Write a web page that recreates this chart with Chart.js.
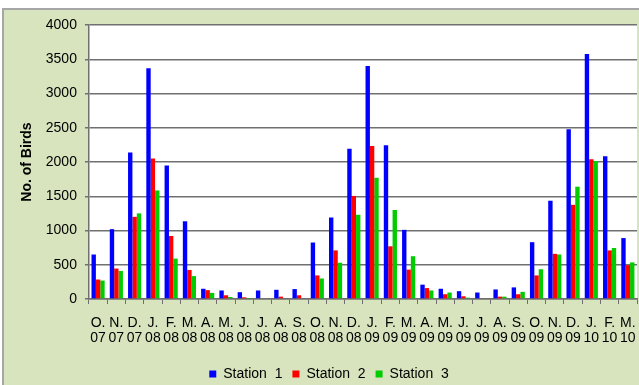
<!DOCTYPE html>
<html lang="en">
<head>
<meta charset="UTF-8">
<title>No. of Birds by month</title>
<script src="https://cdn.jsdelivr.net/npm/chart.js"></script>
<style>
  body { margin: 0; background: #fff; }
  #wrap { position: relative; width: 639px; height: 385px; overflow: hidden; }
  #frame { position: absolute; left: 2px; top: 8px; width: 640px; height: 380px;
           background: #d7e4bd; border-left: 2px solid #a6a6a6; border-top: 2px solid #a6a6a6; }
  canvas { position: absolute; left: 0; top: 0; }
</style>
</head>
<body>
<div id="wrap">
  <div id="frame"></div>
  <canvas id="chart" width="639" height="385"></canvas>
</div>
<script>
const months = [
  ['O.', '07'], ['N.', '07'], ['D.', '07'], ['J.', '08'], ['F.', '08'], ['M.', '08'],
  ['A.', '08'], ['M.', '08'], ['J.', '08'], ['J.', '08'], ['A.', '08'], ['S.', '08'],
  ['O.', '08'], ['N.', '08'], ['D.', '08'], ['J.', '09'], ['F.', '09'], ['M.', '09'],
  ['A.', '09'], ['M.', '09'], ['J.', '09'], ['J.', '09'], ['A.', '09'], ['S.', '09'],
  ['O.', '09'], ['N.', '09'], ['D.', '09'], ['J.', '10'], ['F.', '10'], ['M.', '10']
];
const station1 = [650, 1020, 2140, 3370, 1950, 1135, 150, 125, 100, 125, 135, 145,
                  825, 1190, 2195, 3400, 2245, 1010, 210, 150, 115, 95, 140, 170,
                  830, 1435, 2480, 3575, 2085, 890];
const station2 = [285, 445, 1200, 2050, 920, 425, 130, 55, 25, 0, 35, 55,
                  345, 710, 1505, 2235, 770, 430, 160, 70, 40, 10, 35, 70,
                  345, 660, 1375, 2040, 710, 495];
const station3 = [270, 410, 1250, 1585, 590, 335, 90, 30, 5, 0, 10, 0,
                  300, 530, 1230, 1770, 1300, 625, 125, 95, 20, 0, 35, 105,
                  435, 650, 1640, 2015, 745, 535];
const seriesNames = ['Station  1', 'Station  2', 'Station  3'];
const seriesColors = ['#0000ff', '#ff0000', '#00cc00'];
const yTicks = { min: 0, max: 4000, step: 500 };

const font = { family: 'Arial, "Liberation Sans", sans-serif', size: 14 };

// white plot area on the green chart background, legend nudged right
const plotBg = {
  id: 'plotBg',
  afterLayout(chart) {
    chart.legend.left += 5;
    chart.legend.right += 5;
  },
  beforeDraw(chart) {
    const a = chart.chartArea, ctx = chart.ctx;
    ctx.save();
    ctx.fillStyle = '#fff';
    ctx.fillRect(a.left, a.top, a.right - a.left, a.bottom - a.top);
    ctx.restore();
  }
};

new Chart(document.getElementById('chart'), {
  type: 'bar',
  data: {
    labels: months,
    datasets: [station1, station2, station3].map((d, i) => ({
      label: seriesNames[i],
      data: d,
      backgroundColor: seriesColors[i],
      borderWidth: 0,
      categoryPercentage: 0.72,
      barPercentage: 1.0
    }))
  },
  options: {
    responsive: false,
    animation: false,
    layout: { padding: { left: 11, top: 25, right: 2, bottom: -6 } },
    plugins: {
      legend: {
        position: 'bottom',
        labels: { font: font, color: '#000', boxWidth: 7, boxHeight: 7, padding: 10 }
      },
      tooltip: { enabled: false }
    },
    scales: {
      x: {
        offset: true,
        afterFit: s => { s.height -= 1; s.paddingRight = 0; },
        grid: { offset: true, drawOnChartArea: false, drawTicks: true, tickLength: 5, color: '#707070' },
        border: { color: '#707070', width: 1.5 },
        ticks: { font: { ...font, lineHeight: 1.07 }, color: '#000', maxRotation: 0, autoSkip: false, padding: 12 }
      },
      y: {
        min: yTicks.min,
        max: yTicks.max,
        grid: { color: '#707070', lineWidth: 1.5, tickLength: 4 },
        border: { color: '#707070', width: 1.5 },
        ticks: { stepSize: yTicks.step, font: font, color: '#000', padding: 8, callback: v => String(v) },
        title: {
          display: true,
          text: 'No. of Birds',
          font: { ...font, weight: 'bold' },
          color: '#000',
          padding: { top: 8, bottom: 2 }
        }
      }
    }
  },
  plugins: [plotBg]
});
</script>
</body>
</html>
